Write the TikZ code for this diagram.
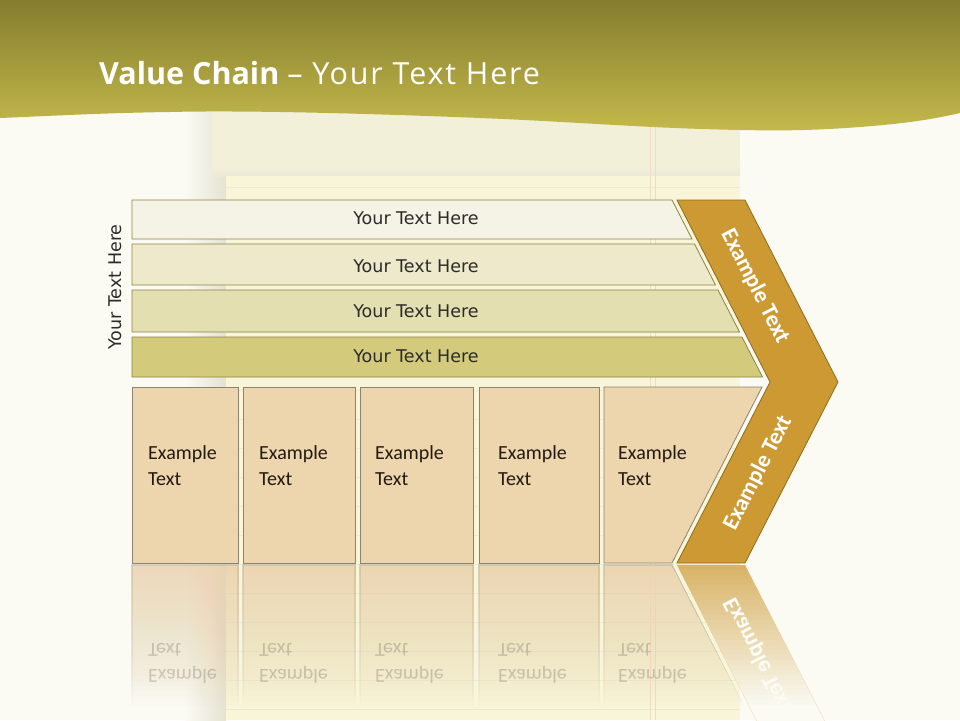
\documentclass[tikz,border=0pt]{standalone}
\usepackage{fontspec}
\setmainfont{Carlito}
\newfontfamily\titlefont{Open Sans}
\newfontfamily\barfont{DejaVu Sans}
\definecolor{bgc}{HTML}{FBFBF4}
\definecolor{headtop}{HTML}{857D2E}
\definecolor{headbot}{HTML}{C4B94C}
\definecolor{padtop}{HTML}{F3F0DA}
\definecolor{padbody}{HTML}{F9F5D8}
\definecolor{padshade}{HTML}{E4E2D2}
\definecolor{ruleline}{HTML}{E9EBD2}
\definecolor{redline}{HTML}{EEDCCB}
\definecolor{barA}{HTML}{F5F3E5}
\definecolor{barB}{HTML}{EDE9CA}
\definecolor{barC}{HTML}{E3DFB1}
\definecolor{barD}{HTML}{D3CB7B}
\definecolor{barline}{HTML}{8C8344}
\definecolor{boxfill}{HTML}{EDD5AD}
\definecolor{boxline}{HTML}{8A8272}
\definecolor{chevfill}{HTML}{CC9933}
\definecolor{chevline}{HTML}{8E6B1E}
\definecolor{bartextc}{HTML}{2B2B2B}
\definecolor{boxtextc}{HTML}{221A10}
\tikzset{
  barshape/.style={draw=barline, line width=0.8pt},
  bartext/.style={font=\barfont\fontsize{17.5}{20}\selectfont, text=bartextc, inner sep=0pt},
  boxshape/.style={draw=boxline, line width=0.8pt, fill=boxfill},
  boxtext/.style={font=\fontsize{20}{26}\selectfont, text=boxtextc, align=left, anchor=base west, inner sep=0pt},
  chevshape/.style={draw=chevline, line width=0.8pt, fill=chevfill},
  chevtext/.style={font=\bfseries\fontsize{23}{26}\selectfont, text=white, inner sep=0pt},
  rlayer/.style={draw=boxline!70, line width=0.6pt, fill=boxfill, fill opacity=0.04, draw opacity=0.04},
  rtext/.style={font=\fontsize{20}{26}\selectfont, text=boxtextc, align=left, anchor=base west, inner sep=0pt, yscale=-1, text opacity=0.2}
}
\begin{document}
\begin{tikzpicture}[x=1pt,y=-1pt]
\useasboundingbox (0,0) rectangle (960,720);
\fill[bgc] (0,0) rectangle (960,720);
% notepad in the background
\shade[left color=bgc, right color=padshade] (185,110) rectangle (226,720);
\fill[padtop] (212,110) rectangle (740,175);
\shade[top color=padtop, bottom color=padtop!50!padshade] (212,166) rectangle (740,176);
\fill[padbody] (226,176) rectangle (740,720);
\foreach \k in {0,...,18} {
  \draw[ruleline, line width=0.8pt] (226,187+29*\k) -- (740,187+29*\k);
}
\draw[redline, line width=0.8pt] (650,110) -- (650,720) (655,110) -- (655,720);
% header
\shade[top color=headtop, bottom color=headbot]
  (0,0) -- (960,0) -- (960,113)
  .. controls (930,120) and (900,124) .. (860,127)
  .. controls (820,130) and (790,131) .. (740,130)
  .. controls (640,128) and (580,122) .. (480,118)
  .. controls (380,114) and (250,110) .. (170,112)
  .. controls (100,113) and (50,116) .. (0,118) -- cycle;
\node[anchor=base west, inner sep=0pt, text=white, font=\titlefont\fontsize{30.5}{36}\selectfont] (title) at (99,84)
  {\textbf{Value Chain} {\addfontfeature{LetterSpace=6}– Your Text Here}};
% top bars
\draw[barshape, fill=barA] (132,200) -- (672,200) -- (692,239) -- (132,239) -- cycle;
\draw[barshape, fill=barB] (132,244) -- (694.5,244) -- (715.5,285) -- (132,285) -- cycle;
\draw[barshape, fill=barC] (132,290) -- (718,290) -- (739.5,332) -- (132,332) -- cycle;
\draw[barshape, fill=barD] (132,337) -- (742,337) -- (762.5,377) -- (132,377) -- cycle;
\node[bartext] (b1) at (416,218.5) {Your Text Here};
\node[bartext] (b2) at (416,266) {Your Text Here};
\node[bartext] (b3) at (416,311) {Your Text Here};
\node[bartext] (b4) at (416,356.5) {Your Text Here};
\node[bartext, rotate=90] (side) at (115,287) {Your Text Here};
% chevron
\draw[chevshape] (677,200) -- (745,200) -- (838,382) -- (745,563) -- (677,563) -- (770,382) -- cycle;
\node[chevtext, rotate=-62.93] (c1) at (755,286) {Example Text};
\node[chevtext, rotate=62.93] (c2) at (758,473) {Example Text};
% bottom boxes
\draw[boxshape] (132,387) rectangle (238,563);
\draw[boxshape] (243,387) rectangle (355,563);
\draw[boxshape] (360,387) rectangle (473,563);
\draw[boxshape] (479,387) rectangle (599,563);
\draw[boxshape] (604,387) -- (762,387) -- (672,563) -- (604,563) -- cycle;
\node[boxtext] (t1) at (148,485) {Example\\Text};
\node[boxtext] (t2) at (259,485) {Example\\Text};
\node[boxtext] (t3) at (375,485) {Example\\Text};
\node[boxtext] (t4) at (498,485) {Example\\Text};
\node[boxtext] (t5) at (618,485) {Example\\Text};
% reflection of the boxes: stacked faint layers, fading downwards
\foreach \i in {1,...,28} {
  \begin{scope}
    \clip (120,563) rectangle (770,565+5*\i);
    \path[rlayer] (132,565) rectangle (238,741)
      (243,565) rectangle (355,741)
      (360,565) rectangle (473,741)
      (479,565) rectangle (599,741)
      (604,565) -- (672,565) -- (762,741) -- (604,741) -- cycle;
  \end{scope}
}
\node[rtext] (r1) at (148,643) {Example\\Text};
\node[rtext] (r2) at (259,643) {Example\\Text};
\node[rtext] (r3) at (375,643) {Example\\Text};
\node[rtext] (r4) at (498,643) {Example\\Text};
\node[rtext] (r5) at (618,643) {Example\\Text};
% reflection of the chevron's lower arm
\fill[chevfill] (677,565) -- (745,565) -- (838,747) -- (770,747) -- cycle;
\node[chevtext, rotate=-62.93, yscale=-1] (rc) at (758,655) {Example Text};
\begin{scope}
  \clip (677,565) -- (745,565) -- (838,747) -- (770,747) -- cycle;
  \foreach \i in {0,...,27} {
    \pgfmathsetmacro{\ao}{1-0.72*(1-\i/28)}
    \fill[bgc, opacity=\ao] (670,565+5*\i) rectangle (850,570+5*\i);
  }
  \fill[bgc] (670,705) rectangle (850,750);
\end{scope}
\end{tikzpicture}
\end{document}
